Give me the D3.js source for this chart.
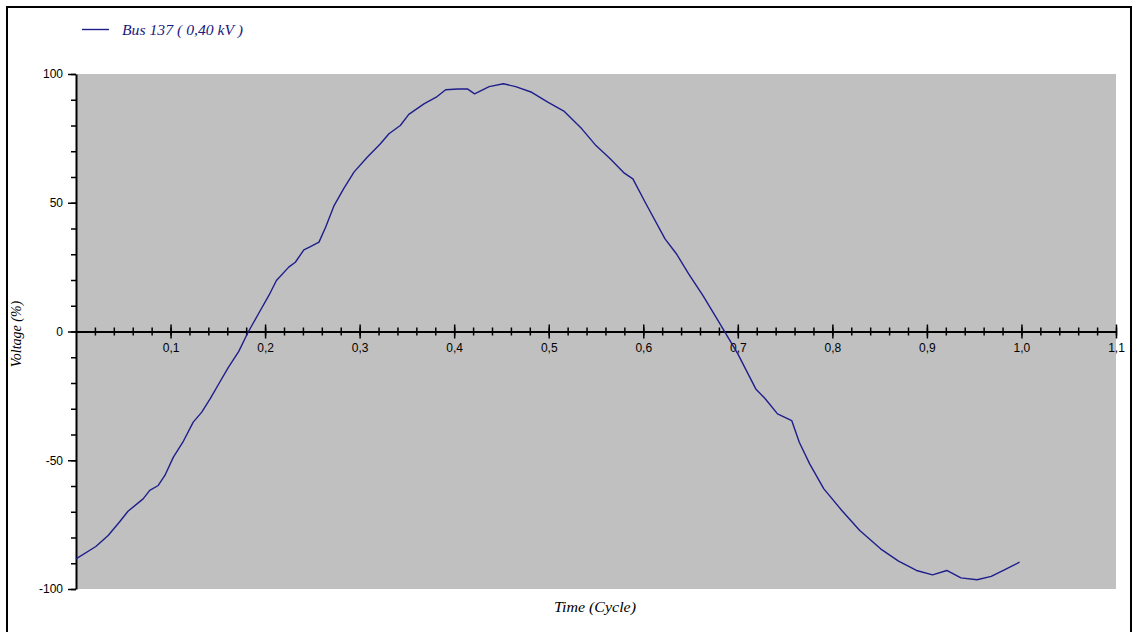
<!DOCTYPE html>
<html><head><meta charset="utf-8">
<script src="https://cdn.jsdelivr.net/npm/d3@7"></script>
<style>body{margin:0;background:#fff}svg{display:block}</style>
</head><body>
<svg id="c" width="1133" height="632"></svg>
<script>
// ---- data ----
const seriesName = "Bus 137 ( 0,40 kV )";
const xTitle = "Time (Cycle)";
const yTitle = "Voltage (%)";
const times = [0.000,0.021,0.034,0.046,0.055,0.071,0.078,0.087,0.094,0.103,0.113,0.124,0.133,0.142,0.152,0.161,0.172,0.182,0.193,0.204,0.212,0.225,0.232,0.241,0.248,0.257,0.264,0.273,0.283,0.294,0.308,0.322,0.331,0.343,0.352,0.368,0.381,0.391,0.404,0.414,0.4216,0.437,0.452,0.465,0.482,0.499,0.516,0.535,0.550,0.565,0.580,0.589,0.602,0.623,0.635,0.648,0.663,0.678,0.687,0.700,0.719,0.729,0.742,0.757,0.765,0.776,0.791,0.810,0.829,0.851,0.870,0.889,0.906,0.921,0.936,0.953,0.968,0.983,0.998];
const voltage = [-88.3,-83.5,-79.2,-74.0,-69.8,-65.0,-61.7,-59.8,-55.9,-48.8,-43.0,-35.2,-31.3,-26.1,-19.7,-14.0,-7.8,-0.3,6.9,14.0,19.8,25.0,26.9,31.7,33.0,34.7,40.5,48.9,55.4,61.9,67.7,72.9,76.8,80.0,84.3,88.4,91.0,93.9,94.2,94.2,92.3,95.1,96.2,95.1,92.9,89.1,85.6,78.7,72.2,67.1,61.5,59.3,50.2,36.0,30.2,22.4,14.0,4.9,-0.6,-8.7,-22.3,-26.1,-32.0,-34.6,-43.0,-51.4,-61.1,-69.5,-77.3,-84.4,-89.2,-92.8,-94.5,-92.8,-95.7,-96.4,-95.1,-92.4,-89.6];
const xMajorTicks = [0.1,0.2,0.3,0.4,0.5,0.6,0.7,0.8,0.9,1.0,1.1];
const yMajorTicks = [-100,-50,0,50,100];

// ---- layout ----
const svg = d3.select("#c");
const L = 76, R = 1116, T = 74, B = 589;
const x = d3.scaleLinear().domain([0, 1.1]).range([L, R]);
const y = d3.scaleLinear().domain([-100, 100]).range([B, T]);
const lineColor = "#1e1e8c";

// outer frame
svg.append("rect").attr("x", 7).attr("y", 7).attr("width", 1124).attr("height", 640)
  .attr("fill", "none").attr("stroke", "#000").attr("stroke-width", 2);

// plot background
svg.append("rect").attr("x", L).attr("y", T).attr("width", R - L).attr("height", B - T)
  .attr("fill", "#c0c0c0");

// y axis
const yMinor = d3.range(-100, 101, 10);
const gyMinor = svg.append("g").attr("transform", `translate(${L},0)`)
  .call(d3.axisLeft(y).tickValues(yMinor).tickSize(5).tickFormat(""));
gyMinor.select(".domain").remove();
const gy = svg.append("g").attr("transform", `translate(${L},0)`)
  .call(d3.axisLeft(y).tickValues(yMajorTicks).tickSize(8).tickPadding(5).tickSizeOuter(0).tickFormat(d => String(d)));
gy.select(".domain").attr("stroke-width", 2);
svg.selectAll("g.tick line").attr("stroke-width", 1.5);
gy.selectAll("text").attr("font-family", "Liberation Sans, Arial, sans-serif").attr("font-size", 12).attr("fill", "#000");

// x axis at y=0, ticks cross the line
const x0 = y(0);
const xMinor = d3.range(0.02, 1.1001, 0.02);
const gxMinor = svg.append("g").attr("transform", `translate(0,${x0})`)
  .call(d3.axisBottom(x).tickValues(xMinor).tickSize(4).tickFormat(""));
gxMinor.select(".domain").remove();
gxMinor.selectAll(".tick line").attr("y1", -4).attr("stroke-width", 1.5);
const gx = svg.append("g").attr("transform", `translate(0,${x0})`)
  .call(d3.axisBottom(x).tickValues(xMajorTicks).tickSize(7).tickPadding(5).tickSizeOuter(0)
    .tickFormat(d => d3.format(".1f")(d).replace(".", ",")));
gx.select(".domain").attr("d", `M${L},0.5H${R}`).attr("stroke-width", 2);
gx.selectAll(".tick line").attr("y1", -7).attr("stroke-width", 1.5);
gx.selectAll("text").attr("font-family", "Liberation Sans, Arial, sans-serif").attr("font-size", 12).attr("fill", "#000");

// series line
const line = d3.line().x((d, i) => x(times[i])).y(d => y(d));
svg.append("path").datum(voltage).attr("d", line)
  .attr("fill", "none").attr("stroke", lineColor).attr("stroke-width", 1.4).attr("stroke-linejoin", "round");

// axis titles
svg.append("text").attr("x", 595).attr("y", 612).attr("text-anchor", "middle")
  .attr("font-family", "Liberation Serif, serif").attr("font-style", "italic").attr("font-size", 15)
  .attr("textLength", 82).attr("lengthAdjust", "spacingAndGlyphs")
  .attr("fill", "#000").text(xTitle);
svg.append("text").attr("transform", "translate(21,334) rotate(-90)").attr("text-anchor", "middle")
  .attr("font-family", "Liberation Serif, serif").attr("font-style", "italic").attr("font-size", 14)
  .attr("fill", "#000").text(yTitle);

// legend
svg.append("line").attr("x1", 82).attr("x2", 109).attr("y1", 29.5).attr("y2", 29.5)
  .attr("stroke", lineColor).attr("stroke-width", 1.4);
svg.append("text").attr("x", 122).attr("y", 35)
  .attr("font-family", "Liberation Serif, serif").attr("font-style", "italic").attr("font-size", 14)
  .attr("textLength", 121).attr("lengthAdjust", "spacingAndGlyphs")
  .attr("fill", "#1a1a80").text(seriesName);
</script>
</body></html>
